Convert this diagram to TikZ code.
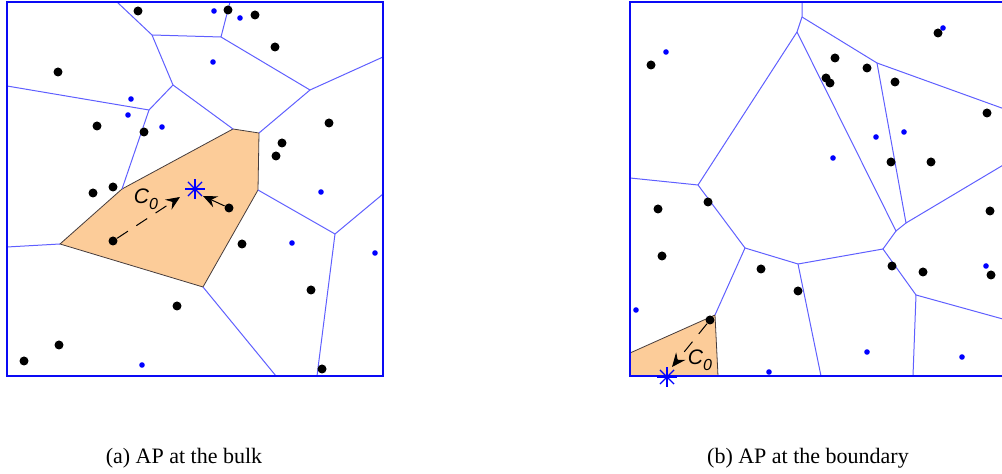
\documentclass[tikz,border=0pt]{standalone}
\usepackage{fontspec}
\setmainfont{Liberation Serif}
\newfontfamily\labelfont{Liberation Sans}
\usetikzlibrary{arrows.meta}

\definecolor{cellline}{RGB}{95,95,255}
\definecolor{framecol}{RGB}{10,10,245}
\definecolor{cellfill}{RGB}{252,204,153}
\definecolor{cellborder}{RGB}{70,60,60}
\definecolor{userblue}{RGB}{0,0,255}

\tikzset{
  frame/.style={draw=framecol, line width=1.1pt},
  vedge/.style={draw=cellline, line width=0.5pt},
  cellpoly/.style={fill=cellfill, draw=cellborder, line width=0.4pt},
  bdot/.style={circle, fill=black, inner sep=0pt, minimum size=4.5pt},
  sdot/.style={circle, fill=userblue, inner sep=0pt, minimum size=2.8pt},
  apmark/.style={circle, fill=userblue, inner sep=0pt, minimum size=2pt},
  arms/.style={draw=userblue, line width=0.6pt},
  assoc/.style={draw=black, line width=0.5pt, -{Stealth[length=7pt,width=6pt,inset=2.5pt]}},
  assocdash/.style={assoc, dash pattern=on 6.5pt off 5pt},
  clabel/.style={font=\labelfont\itshape\fontsize{10.5}{12}\selectfont, inner sep=0pt},
  caption/.style={font=\fontsize{11}{13}\selectfont, inner sep=0pt}
}

\newcommand{\apstar}[1]{%
  \foreach \ang in {0,45,...,315} {\draw[arms] (#1.center) -- ++(\ang:10);}}

\begin{document}
\begin{tikzpicture}[x=0.5pt, y=-0.5pt]
\useasboundingbox (0,0) rectangle (1002,474);
\clip (0,0) rectangle (1002,474);

% ---------------- panel (a): access point inside the area ----------------
\coordinate (la1) at (117,2);   \coordinate (lv1) at (152,35);
\coordinate (lv2) at (221,37);  \coordinate (la2) at (230,2);
\coordinate (lv3) at (310,90);  \coordinate (lr1) at (383,57);
\coordinate (lv4) at (259,133); \coordinate (lv5) at (233,129);
\coordinate (lv6) at (173,85);  \coordinate (lv7) at (149,110);
\coordinate (ll1) at (7,86);    \coordinate (lv9) at (122,189);
\coordinate (lv8) at (60,244);  \coordinate (ll2) at (7,247);
\coordinate (lv12) at (258,190);\coordinate (lv11) at (203,287);
\coordinate (lb1) at (276,376); \coordinate (lv13) at (335,234);
\coordinate (lr2) at (383,194); \coordinate (lb2) at (317,376);

\path[cellpoly] (lv8) -- (lv9) -- (lv5) -- (lv4) -- (lv12) -- (lv11) -- cycle;

\path[vedge] (la1) -- (lv1) -- (lv2) -- (la2);
\path[vedge] (lv2) -- (lv3) -- (lr1);
\path[vedge] (lv3) -- (lv4);
\path[vedge] (lv1) -- (lv6) -- (lv5);
\path[vedge] (lv6) -- (lv7) -- (ll1);
\path[vedge] (lv7) -- (lv9);
\path[vedge] (lv8) -- (ll2);
\path[vedge] (lv12) -- (lv13) -- (lr2);
\path[vedge] (lv13) -- (lb2);
\path[vedge] (lv11) -- (lb1);

\foreach \p [count=\i] in {(138,11),(58,72),(97,126),(144,132),(113,187),(93,193),
  (228,10),(255,15),(275,47),(329,123),(282,143),(276,156),(113,241),(177,306),
  (59,345),(24,361),(229,208),(242,244),(311,290),(322,369)}
  \node[bdot] (ua\i) at \p {};
\foreach \p [count=\i] in {(131,99),(128,115),(162,127),(214,11),(240,18),(213,62),
  (142,365),(321,192),(292,243),(375,253)}
  \node[sdot] (sa\i) at \p {};

\node[apmark] (apa) at (195,189) {};
\apstar{apa}
\coordinate (tipa1) at (180,197);
\coordinate (tipa2) at (203,196);
\path[assocdash] (ua13) -- (tipa1);
\path[assoc] (ua17) -- (tipa2);
\node[clabel] (ca) at (146,199) {C\raisebox{-0.55ex}{\fontsize{8}{9}\selectfont 0}};

\path[frame] (7,2) rectangle (383,376);
\node[caption] (capa) at (184,458) {(a) AP at the bulk};

% ---------------- panel (b): access point on the border ----------------
\coordinate (rt) at (802,2);    \coordinate (w0) at (802,17);
\coordinate (w1) at (797,32);   \coordinate (w3) at (877,63);
\coordinate (rr1) at (1010,111);\coordinate (w2) at (698,185);
\coordinate (rl1) at (630,178); \coordinate (w4) at (745,248);
\coordinate (w5) at (798,264);  \coordinate (w7) at (896,231);
\coordinate (w8) at (906,223);  \coordinate (rr2) at (1010,161);
\coordinate (w9) at (883,249);  \coordinate (w10) at (916,295);
\coordinate (rr3) at (1010,321);\coordinate (rb1) at (821,376);
\coordinate (rb2) at (913,376); \coordinate (w6) at (715,315);
\coordinate (rl2) at (630,353); \coordinate (rb3) at (718,376);
\coordinate (rc) at (630,376);

\path[cellpoly] (rl2) -- (w6) -- (rb3) -- (rc) -- cycle;

\path[vedge] (rt) -- (w0) -- (w1) -- (w2) -- (rl1);
\path[vedge] (w0) -- (w3) -- (rr1);
\path[vedge] (w3) -- (w8) -- (rr2);
\path[vedge] (w1) -- (w7) -- (w8);
\path[vedge] (w2) -- (w4) -- (w5) -- (w9);
\path[vedge] (w4) -- (w6);
\path[vedge] (w5) -- (rb1);
\path[vedge] (w7) -- (w9) -- (w10) -- (rr3);
\path[vedge] (w10) -- (rb2);

\foreach \p [count=\i] in {(651,65),(938,33),(835,58),(826,78),(830,83),(867,68),
  (895,82),(987,113),(891,162),(931,162),(658,209),(708,202),(662,256),(761,269),
  (798,291),(710,320),(990,211),(892,266),(923,272),(991,275)}
  \node[bdot] (ub\i) at \p {};
\foreach \p [count=\i] in {(666,52),(943,28),(876,137),(904,132),(833,158),(636,310),
  (769,372),(986,266),(867,352),(962,357)}
  \node[sdot] (sb\i) at \p {};

\path[frame] (630,2) rectangle (1006,376);

\node[apmark] (apb) at (667,377) {};
\apstar{apb}
\coordinate (tipb) at (672,367);
\path[assocdash] (ub16) -- (tipb);
\node[clabel] (cb) at (700,360) {C\raisebox{-0.55ex}{\fontsize{8}{9}\selectfont 0}};

\node[caption] (capb) at (808,458) {(b) AP at the boundary};
\end{tikzpicture}
\end{document}
